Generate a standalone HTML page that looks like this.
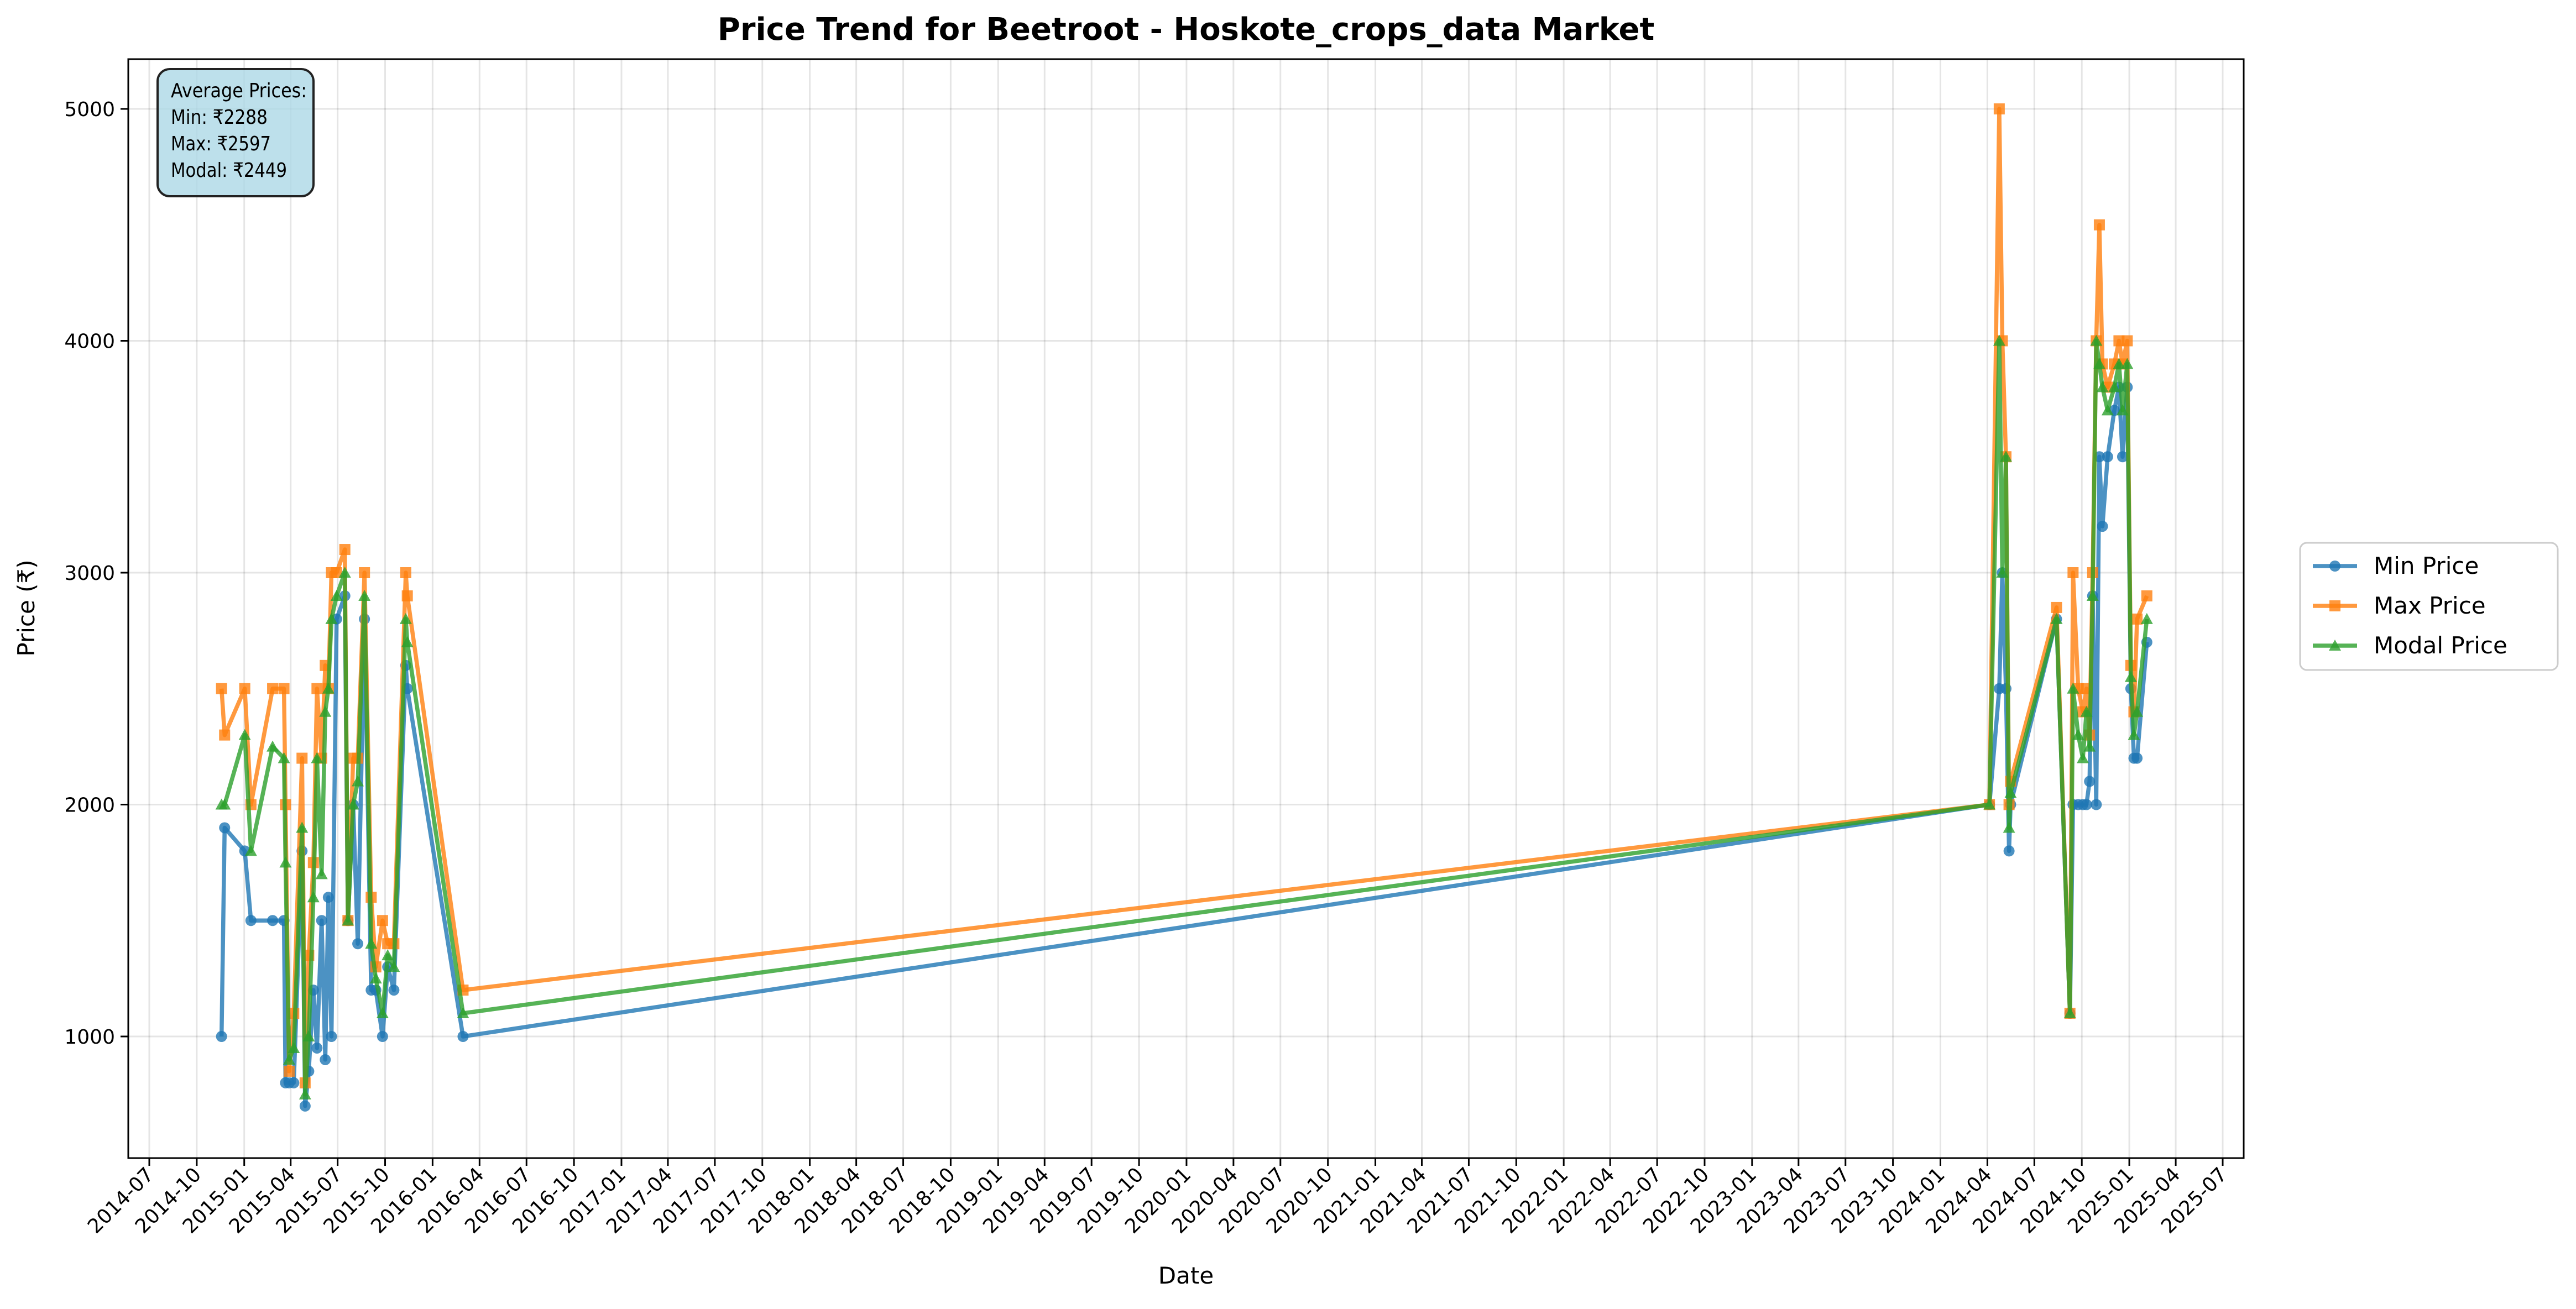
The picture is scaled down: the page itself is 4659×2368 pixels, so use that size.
<!DOCTYPE html>
<html><head><meta charset="utf-8"><style>
html,body{margin:0;padding:0;background:#fff;}
svg{display:block;font-family:"DejaVu Sans","Liberation Sans",sans-serif;}
</style></head><body>
<svg id="chart" width="4659" height="2368" viewBox="0 0 4659 2368">
<rect x="0" y="0" width="4659" height="2368" fill="#fff"/>
<g id="grid"></g>
<g id="series"></g>
<rect x="232" y="107" width="3826" height="1988" fill="none" stroke="#000" stroke-width="3"/>
<g id="axes"></g>
<text x="2145" y="72" text-anchor="middle" font-size="56" font-weight="bold">Price Trend for Beetroot - Hoskote_crops_data Market</text>
<text x="2145" y="2322" text-anchor="middle" font-size="42">Date</text>
<text transform="translate(62,1100) rotate(-90)" text-anchor="middle" font-size="42">Price (₹)</text>
<g>
<rect x="285" y="125" width="282" height="230" rx="22" fill="#add8e6" fill-opacity="0.8" stroke="#222" stroke-width="4"/>
<text x="309" y="176" font-size="36" textLength="246" lengthAdjust="spacingAndGlyphs">Average Prices:</text>
<text x="309" y="224" font-size="36" textLength="175" lengthAdjust="spacingAndGlyphs">Min: ₹2288</text>
<text x="309" y="272" font-size="36" textLength="181" lengthAdjust="spacingAndGlyphs">Max: ₹2597</text>
<text x="309" y="320" font-size="36" textLength="210" lengthAdjust="spacingAndGlyphs">Modal: ₹2449</text>
</g>
<g>
<rect x="4160" y="982" width="466" height="230" rx="12" fill="#fff" stroke="#ccc" stroke-width="3"/>
<g>
<line x1="4183" y1="1024" x2="4263" y2="1024" stroke="#1f77b4" stroke-opacity="0.8" stroke-width="7.5"/>
<circle cx="4223" cy="1024" r="10" fill="#1f77b4" fill-opacity="0.8"/>
<text x="4293" y="1038" font-size="42">Min Price</text></g>
<g>
<line x1="4183" y1="1096" x2="4263" y2="1096" stroke="#ff7f0e" stroke-opacity="0.8" stroke-width="7.5"/>
<rect x="4213" y="1086" width="20" height="20" fill="#ff7f0e" fill-opacity="0.8"/>
<text x="4293" y="1110" font-size="42">Max Price</text></g>
<g>
<line x1="4183" y1="1168" x2="4263" y2="1168" stroke="#2ca02c" stroke-opacity="0.8" stroke-width="7.5"/>
<polygon points="4223,1157 4234,1177 4212,1177" fill="#2ca02c" fill-opacity="0.8"/>
<text x="4293" y="1182" font-size="42">Modal Price</text></g>
</g>
</svg>
<script>
const dayOffsets=[140,146,185,197,239,261,264,271,280,296,302,309,318,325,334,341,347,353,363,379,385,395,404,417,430,439,452,462,474,497,500,608,
3566,3585,3591,3598,3604,3607,3696,3722,3728,3738,3747,3754,3760,3766,3773,3779,3785,3795,3808,3817,3824,3833,3840,3846,3852,3871];
const minPrices=[1000,1900,1800,1500,1500,1500,800,800,800,1800,700,850,1200,950,1500,900,1600,1000,2800,2900,1500,2000,1400,2800,1200,1200,1000,1300,1200,2600,2500,1000,
2000,2500,3000,2500,1800,2000,2800,1100,2000,2000,2000,2000,2100,2900,2000,3500,3200,3500,3700,3800,3500,3800,2500,2200,2200,2700];
const maxPrices=[2500,2300,2500,2000,2500,2500,2000,850,1100,2200,800,1350,1750,2500,2200,2600,2500,3000,3000,3100,1500,2200,2200,3000,1600,1300,1500,1400,1400,3000,2900,1200,
2000,5000,4000,3500,2000,2100,2850,1100,3000,2500,2400,2500,2300,3000,4000,4500,3900,3800,3900,4000,3900,4000,2600,2400,2800,2900];
const modalPrices=[2000,2000,2300,1800,2250,2200,1750,900,950,1900,750,1000,1600,2200,1700,2400,2500,2800,2900,3000,1500,2000,2100,2900,1400,1250,1100,1350,1300,2800,2700,1100,
2000,4000,3000,3500,1900,2050,2800,1100,2500,2300,2200,2400,2250,2900,4000,3900,3800,3700,3800,3900,3700,3900,2550,2300,2400,2800];
const yTicks=[1000,2000,3000,4000,5000];
const baseDate=Date.UTC(2014,6,1);
const DAY=86400000;
const X0=232,X1=4058,Y0=107,Y1=2095;
const tickStartDay=0, tickEndDay=4018;
function xScale(d){return 270+(d-tickStartDay)/(tickEndDay-tickStartDay)*(4020-270);}
function yScale(v){return 197+(5000-v)/1000*419.5;}
const NS="http://www.w3.org/2000/svg";
function mk(tag,attrs,parent){const e=document.createElementNS(NS,tag);for(const k in attrs)e.setAttribute(k,attrs[k]);parent.appendChild(e);return e;}
const grid=document.getElementById('grid'),axes=document.getElementById('axes'),series=document.getElementById('series');
for(let y=2014;y<=2025;y++){for(const m of [0,3,6,9]){
 if(y===2014&&m<6)continue; if(y===2025&&m>6)continue;
 const d=(Date.UTC(y,m,1)-baseDate)/DAY; const x=xScale(d);
 const gl=mk('line',{x1:x,y1:Y0,x2:x,y2:Y1,stroke:'#000','stroke-opacity':0.1,'stroke-width':3},grid);
 
 mk('line',{x1:x,y1:Y1,x2:x,y2:Y1+14,stroke:'#000','stroke-width':3},axes);
 const lab=y+'-'+String(m+1).padStart(2,'0');
 const t=mk('text',{x:0,y:0,'font-size':36,'text-anchor':'end',transform:`translate(${x+10},${Y1+32}) rotate(-45)`},axes);
 t.textContent=lab;
 
}}
yTicks.forEach(v=>{const y=yScale(v);
 const gl=mk('line',{x1:X0,y1:y,x2:X1,y2:y,stroke:'#000','stroke-opacity':0.1,'stroke-width':3},grid);
 
 mk('line',{x1:X0-14,y1:y,x2:X0,y2:y,stroke:'#000','stroke-width':3},axes);
 const t=mk('text',{x:X0-24,y:y+13,'font-size':36,'text-anchor':'end'},axes);t.textContent=v;
 
});
function drawSeries(vals,color,shape,name){
 const g=mk('g',{},series);
 
 
 const pts=vals.map((v,i)=>xScale(dayOffsets[i]).toFixed(1)+','+yScale(v).toFixed(1)).join(' ');
 mk('polyline',{points:pts,fill:'none',stroke:color,'stroke-opacity':0.8,'stroke-width':7.5,'stroke-linejoin':'round'},g);
 vals.forEach((v,i)=>{const x=xScale(dayOffsets[i]),y=yScale(v);let m;
  if(shape==='c')m=mk('circle',{cx:x,cy:y,r:10,fill:color,'fill-opacity':0.8},g);
  else if(shape==='s')m=mk('rect',{x:x-10,y:y-10,width:20,height:20,fill:color,'fill-opacity':0.8},g);
  else m=mk('polygon',{points:`${x},${y-11} ${x+11},${y+9} ${x-11},${y+9}`,fill:color,'fill-opacity':0.8},g);
  
  
 });
}
drawSeries(minPrices,'#1f77b4','c','min-price-series');
drawSeries(maxPrices,'#ff7f0e','s','max-price-series');
drawSeries(modalPrices,'#2ca02c','t','modal-price-series');
</script>
</body></html>
